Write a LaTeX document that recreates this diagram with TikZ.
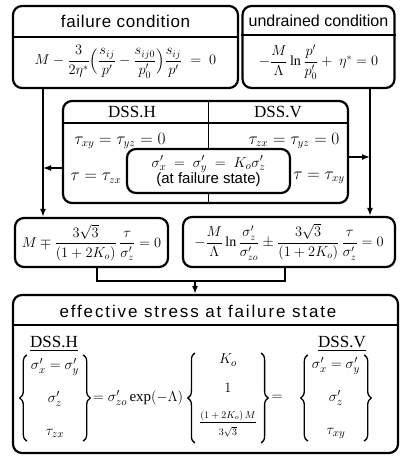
\documentclass[tikz,border=0pt]{standalone}
\usepackage{amsmath,amssymb}
\usepackage{fontspec}
\setmainfont{Liberation Serif}
\newfontfamily\headfont[LetterSpace=4]{Liberation Sans}
\newfontfamily\wideheadfont[LetterSpace=11]{Liberation Sans}
\newfontfamily\plainsans{Liberation Sans}
\usetikzlibrary{arrows.meta,decorations.pathreplacing}

\tikzset{
  frame/.style={draw,line width=2.2pt,rounded corners=9pt,inner sep=0pt},
  sepline/.style={line width=1.4pt},
  link/.style={line width=1.4pt},
  tip/.style={-{Latex[length=8pt,width=6pt]}},
  head/.style={font=\headfont\fontsize{17}{20}\selectfont},
  eqn/.style={font=\fontsize{14}{17}\selectfont,inner sep=1pt},
  dsslabel/.style={font=\fontsize{17}{20}\selectfont},
  vect/.style={font=\fontsize{15}{18}\selectfont,align=center,inner sep=1pt,minimum height=86pt},
  curly/.style={decorate,decoration={brace,amplitude=7pt},line width=1.3pt},
}

\begin{document}
\begin{tikzpicture}[x=1pt,y=-1pt]
\useasboundingbox (0,0) rectangle (400,456);
\node[frame,minimum width=225pt,minimum height=82pt] (fail) at (125.5,47) {};
\node[frame,minimum width=152pt,minimum height=82pt] (undr) at (318.5,47) {};
\node[frame,minimum width=285pt,minimum height=102pt] (dss) at (205.5,152) {};
\node[frame,minimum width=163pt,minimum height=44pt] (state) at (208.5,171) {};
\node[frame,minimum width=153pt,minimum height=49pt] (leq) at (91.5,242.5) {};
\node[frame,minimum width=212pt,minimum height=50pt] (req) at (289,242) {};
\node[frame,minimum width=385pt,minimum height=158pt] (eff) at (205.5,374) {};
\draw[sepline] (fail.west |- 0,37) -- (fail.east |- 0,37);
\draw[sepline] (undr.west |- 0,35) -- (undr.east |- 0,35);
\draw[sepline] (dss.west |- 0,123) -- (dss.east |- 0,123);
\draw[sepline] (state.north |- dss.north) -- (state.north);
\draw[sepline] (state.south) -- (state.south |- dss.south);
\draw[sepline] (eff.west |- 0,325) -- (eff.east |- 0,325);
\node[head] (failT) at (125.5,21) {failure condition};
\node[head,font=\plainsans\fontsize{16}{20}\selectfont] (undrT) at (318.5,21) {undrained condition};
\node[head,font=\wideheadfont\fontsize{17}{20}\selectfont] (effT) at (198,311) {effective stress at failure state};
\node[eqn] (failE) at (125.5,62) {$M-\dfrac{3}{2\eta^*}\Bigl(\dfrac{s_{ij}}{p'}-\dfrac{s_{ij0}}{p'_0}\Bigr)\dfrac{s_{ij}}{p'}\;=\;0$};
\node[eqn] (undrE) at (318.5,62) {$-\dfrac{M}{\Lambda}\ln\dfrac{p'}{p'_0}+\ \eta^*=0$};
\node[dsslabel] (dssH) at (132,112) {DSS.H};
\node[dsslabel] (dssV) at (278,112) {DSS.V};
\node[eqn,font=\fontsize{16}{19}\selectfont] (hzero) at (120,141) {$\tau_{xy}=\tau_{yz}=0$};
\node[eqn,font=\fontsize{16}{19}\selectfont] (hshear) at (96,178) {$\tau=\tau_{zx}$};
\node[eqn,font=\fontsize{16}{19}\selectfont] (vzero) at (294,141) {$\tau_{zx}=\tau_{yz}=0$};
\node[eqn,font=\fontsize{16}{19}\selectfont] (vshear) at (319,178) {$\tau=\tau_{xy}$};
\node[eqn,align=center,font=\fontsize{15}{17}\selectfont] (stateT) at (state.center) {$\sigma_x'\ =\ \sigma_y'\ =\ K_o\sigma_z'$\\[-1pt]{\plainsans(at failure state)}};
\node[eqn] (lE) at (leq.center) {$M\mp\dfrac{3\sqrt{3}}{(1+2K_o)}\,\dfrac{\tau}{\sigma_z'}=0$};
\node[eqn] (rE) at (req.center) {$-\dfrac{M}{\Lambda}\ln\dfrac{\sigma_z'}{\sigma_{zo}'}\pm\dfrac{3\sqrt{3}}{(1+2K_o)}\,\dfrac{\tau}{\sigma_z'}=0$};
\node[dsslabel] (effH) at (54,344) {\underline{DSS.H}};
\node[dsslabel] (effV) at (342,344) {\underline{DSS.V}};
\node[vect] (vecL) at (55,398) {$\sigma'_x=\sigma'_y$\\[15pt]$\sigma'_z$\\[15pt]$\tau_{zx}$};
\node[eqn,font=\fontsize{15}{18}\selectfont] (mid) at (138,398) {$=\sigma_{zo}'\exp(-\Lambda)$};
\node[vect] (vecM) at (228,398) {$K_o$\\[11pt]$1$\\[14pt]{\fontsize{10}{12}\selectfont$\dfrac{(1+2K_o)\,M}{\vphantom{\Big|}3\sqrt{3}}$}};
\node[eqn,font=\fontsize{15}{18}\selectfont] (eqR) at (277,398) {$=$};
\node[vect] (vecR) at (336,398) {$\sigma'_x=\sigma'_y$\\[15pt]$\sigma'_z$\\[15pt]$\tau_{xy}$};
\foreach \v in {vecL,vecM,vecR}{
  \draw[curly] ([xshift=-3pt]\v.south west) -- ([xshift=-3pt]\v.north west);
  \draw[curly] ([xshift=3pt]\v.north east) -- ([xshift=3pt]\v.south east);
}
\coordinate (lx) at (43,168);
\coordinate (rx) at (370,157);
\coordinate (jl) at (97,281);
\coordinate (jm) at (195,281);
\coordinate (jr) at (285,281);
\draw[link,tip] (lx |- fail.south) -- (lx |- leq.north);
\draw[link,tip] (rx |- undr.south) -- (rx |- req.north);
\draw[link,tip] (lx -| dss.west) -- (lx);
\draw[link,tip] (rx -| dss.east) -- (rx);
\draw[link] (jl |- leq.south) -- (jl) -- (jr) -- (jr |- req.south);
\draw[link,tip] (jm) -- (jm |- eff.north);
\end{tikzpicture}
\end{document}
